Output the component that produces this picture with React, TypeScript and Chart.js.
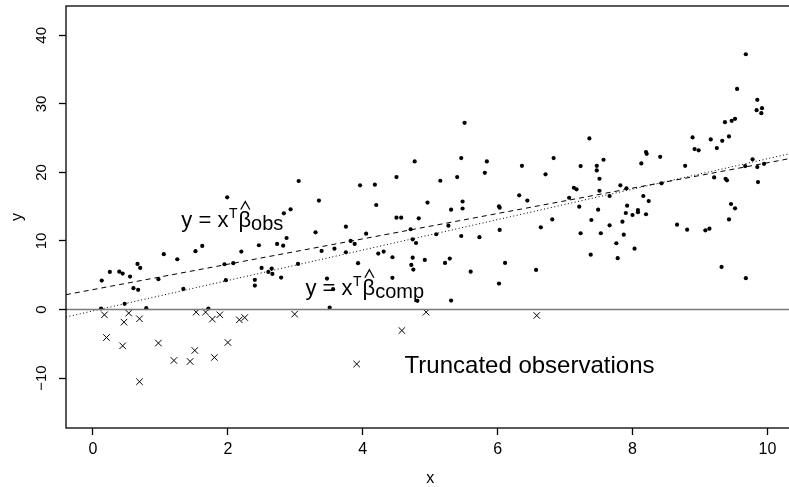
import React, { useEffect, useRef } from 'react';
import { Chart, registerables } from 'chart.js';

Chart.register(...registerables);

const FONT = '"Liberation Sans", Arial, Helvetica, sans-serif';

// Observed (non-truncated) points
const obsX = [
  3.05, 1.99, 2.93, 2.83, 5.51, 3.35, 3.96, 4.18, 4.20, 4.50,
  4.77, 4.50, 4.57, 4.83, 4.96, 5.15, 5.31, 5.40, 5.46, 5.48,
  5.48, 5.84, 5.81, 6.02, 6.03, 6.32, 6.44, 6.36, 6.71, 9.68,
  9.55, 9.85, 9.84, 9.92, 9.91, 9.37, 9.47, 9.52, 9.43, 9.33,
  9.16, 9.25, 8.89, 8.92, 8.98, 8.78, 7.36, 6.83, 7.23, 7.47,
  7.47, 7.57, 7.51, 7.13, 7.17, 7.06, 7.21, 7.51, 7.49, 7.66,
  7.82, 7.91, 8.13, 8.20, 8.21, 8.41, 8.43, 8.16, 8.24, 7.92,
  7.90, 8.00, 8.08, 8.08, 8.20, 6.81, 7.39, 9.21, 9.38, 9.40,
  9.67, 9.78, 9.85, 9.95, 9.86, 9.46, 9.52, 9.43, 2.87, 2.73,
  2.82, 2.46, 2.20, 1.62, 1.52, 1.05, 1.25, 0.66, 0.70, 0.25,
  0.39, 0.44, 0.55, 0.13, 1.95, 2.08, 2.50, 2.60, 2.65, 2.66,
  3.04, 2.79, 0.97, 1.97, 2.40, 2.40, 0.60, 0.67, 1.34, 0.47,
  0.12, 0.79, 1.71, 3.75, 3.30, 4.05, 3.82, 3.88, 3.39, 3.58,
  3.75, 4.71, 5.27, 5.09, 4.74, 4.79, 5.46, 5.73, 6.03, 6.64,
  4.23, 4.31, 4.44, 4.74, 4.92, 5.22, 5.29, 3.93, 4.72, 4.75,
  5.60, 6.11, 6.57, 4.44, 6.02, 3.47, 3.56, 4.81, 5.31, 3.51,
  7.23, 7.53, 7.66, 7.85, 7.76, 7.87, 7.38, 7.78, 8.03, 8.66,
  8.81, 9.08, 9.14, 9.32, 9.68,
];
const obsY = [
  18.75, 16.37, 14.62, 14.04, 27.24, 15.90, 18.12, 18.21, 15.25, 19.33,
  21.61, 13.40, 13.40, 13.31, 15.61, 18.79, 14.57, 19.33, 22.10, 15.76,
  14.74, 21.61, 19.95, 15.06, 14.86, 16.66, 15.90, 20.97, 19.72, 37.24,
  32.19, 30.59, 29.09, 29.38, 28.65, 27.34, 27.53, 27.82, 25.26, 24.61,
  24.82, 23.55, 25.11, 23.41, 23.22, 20.97, 24.96, 22.10, 20.93, 20.97,
  20.30, 21.85, 19.08, 17.77, 17.54, 16.31, 15.00, 17.33, 14.57, 16.56,
  18.12, 17.68, 21.32, 22.97, 22.72, 22.28, 18.41, 16.56, 15.83, 15.15,
  14.08, 13.79, 14.52, 14.19, 13.90, 13.14, 13.06, 19.28, 19.08, 18.85,
  20.93, 21.91, 20.78, 21.26, 18.60, 15.40, 14.77, 13.14, 10.44, 9.57,
  9.32, 9.38, 8.45, 9.28, 8.51, 8.07, 7.34, 6.66, 6.07, 5.49,
  5.53, 5.24, 4.81, 4.22, 6.61, 6.76, 6.07, 5.49, 5.97, 5.20,
  6.66, 4.66, 4.43, 4.28, 4.33, 3.50, 3.12, 2.87, 3.01, 0.83,
  0.15, 0.20, 0.15, 12.09, 11.27, 11.07, 10.01, 9.57, 8.55, 8.88,
  8.36, 11.71, 12.23, 10.98, 10.25, 9.71, 10.73, 10.55, 11.61, 12.00,
  8.16, 8.45, 7.63, 7.57, 7.24, 6.80, 7.43, 6.76, 6.51, 5.83,
  5.53, 6.80, 5.78, 4.62, 3.79, 4.52, 2.97, 1.27, 1.31, 0.29,
  11.13, 11.13, 12.29, 12.82, 9.67, 10.92, 8.01, 7.49, 8.88, 12.38,
  11.65, 11.56, 11.80, 6.22, 4.57,
];

// Truncated observations (latent values below zero)
const truncX = [
  0.17, 0.53, 0.46, 0.69, 1.53, 1.67, 1.77, 1.88, 2.17, 2.25,
  2.99, 0.20, 0.44, 0.97, 1.51, 2.00, 1.20, 1.44, 1.80, 0.69,
  4.94, 6.58, 4.58, 3.91,
];
const truncY = [
  -0.77, -0.52, -1.84, -1.35, -0.38, -0.38, -1.40, -0.77, -1.50, -1.17,
  -0.67, -4.08, -5.29, -4.89, -5.97, -4.81, -7.43, -7.57, -6.99, -10.53,
  -0.38, -0.87, -3.06, -7.95,
];

// Fitted lines: [intercept, slope]
const obsFit = [2.91, 1.85];
const compFit = [-0.2, 2.22];

const xTicks = [0, 2, 4, 6, 8, 10];
const yTicks = [-10, 0, 10, 20, 30, 40];
const xRange = [-0.4, 10.4];
const yRange = [-17.28, 44.28];

// Annotation anchors (data units: left edge, baseline)
const labelObs = [1.31, 12.11];
const labelComp = [3.15, 2.16];
const labelTrunc = [4.62, -9.3];

function drawBetaLabel(ctx: CanvasRenderingContext2D, x0: number, base: number, sub: string) {
  ctx.textAlign = 'left';
  ctx.textBaseline = 'alphabetic';
  ctx.font = `22px ${FONT}`;
  ctx.fillText('y = x', x0, base);
  let cx = x0 + ctx.measureText('y = x').width;
  ctx.font = `14px ${FONT}`;
  ctx.fillText('T', cx + 0.5, base - 9);
  cx += ctx.measureText('T').width + 1.5;
  ctx.font = `22px ${FONT}`;
  const bw = ctx.measureText('\u03B2').width;
  ctx.fillText('\u03B2', cx, base);
  const hc = cx + bw / 2 + 0.5;
  ctx.beginPath();
  ctx.moveTo(hc - 4.5, base - 17);
  ctx.lineTo(hc, base - 25);
  ctx.lineTo(hc + 4.5, base - 17);
  ctx.lineWidth = 1.3;
  ctx.stroke();
  cx += bw;
  ctx.font = `20px ${FONT}`;
  ctx.fillText(sub, cx, base + 3.5);
}

export default function App() {
  const ref = useRef<HTMLCanvasElement>(null);

  useEffect(() => {
    const canvas = ref.current;
    if (!canvas) return;
    const pts = (xs: number[], ys: number[]) => xs.map((x, i) => ({ x, y: ys[i] }));
    const fitLine = (c: number[]) => xRange.map((x) => ({ x, y: c[0] + c[1] * x }));

    const boxPlugin = {
      id: 'box',
      afterDraw(chart: any) {
        const { ctx, chartArea: a } = chart;
        ctx.save();
        ctx.strokeStyle = '#000';
        ctx.lineWidth = 1.3;
        ctx.strokeRect(a.left, a.top, a.right - a.left, a.bottom - a.top);
        ctx.restore();
      },
    };

    const annotPlugin = {
      id: 'annot',
      afterDatasetsDraw(chart: any) {
        const { ctx } = chart;
        const sx = chart.scales.x;
        const sy = chart.scales.y;
        ctx.save();
        ctx.fillStyle = '#000';
        ctx.strokeStyle = '#000';
        drawBetaLabel(ctx, sx.getPixelForValue(labelObs[0]), sy.getPixelForValue(labelObs[1]), 'obs');
        drawBetaLabel(ctx, sx.getPixelForValue(labelComp[0]), sy.getPixelForValue(labelComp[1]), 'comp');
        ctx.font = `24px ${FONT}`;
        ctx.textAlign = 'left';
        ctx.textBaseline = 'alphabetic';
        ctx.fillText('Truncated observations', sx.getPixelForValue(labelTrunc[0]), sy.getPixelForValue(labelTrunc[1]));
        ctx.restore();
      },
    };

    const minus = (v: any) => String(v).replace('-', '\u2212');
    const noPad = (s: any) => { s.paddingTop = 0; s.paddingBottom = 0; s.paddingLeft = 0; s.paddingRight = 0; };

    const chart = new Chart(canvas, {
      type: 'scatter',
      data: {
        datasets: [
          { data: xRange.map((x) => ({ x, y: 0 })), showLine: true, borderColor: '#7a7a7a', borderWidth: 1.4, pointRadius: 0 },
          { data: fitLine(obsFit), showLine: true, borderColor: '#000', borderWidth: 1, borderDash: [5, 4], pointRadius: 0 },
          { data: fitLine(compFit), showLine: true, borderColor: '#000', borderWidth: 1, borderDash: [1, 2.5], pointRadius: 0 },
          { data: pts(obsX, obsY), pointStyle: 'circle', pointRadius: 2.1, backgroundColor: '#000', borderWidth: 0 },
          { data: pts(truncX, truncY), pointStyle: 'crossRot', pointRadius: 4.6, borderColor: '#000', borderWidth: 1, backgroundColor: '#000' },
        ] as any,
      },
      options: {
        animation: false,
        responsive: false,
        maintainAspectRatio: false,
        devicePixelRatio: 1,
        events: [],
        layout: { padding: { top: 6, right: 2, bottom: 0, left: 0 } },
        plugins: { legend: { display: false }, tooltip: { enabled: false } },
        scales: {
          x: {
            type: 'linear',
            min: xRange[0],
            max: xRange[1],
            afterBuildTicks: (s: any) => { s.ticks = xTicks.map((value) => ({ value })); },
            afterFit: (s: any) => { s.height = 59; noPad(s); },
            grid: { display: true, drawOnChartArea: false, drawTicks: true, tickLength: 7, tickColor: '#000', tickWidth: 1.3 },
            border: { display: false },
            ticks: { color: '#000', font: { family: FONT, size: 16 }, padding: 5, maxRotation: 0, autoSkip: false, callback: minus },
            title: { display: true, text: 'x', color: '#000', font: { family: FONT, size: 16, lineHeight: 1 }, padding: { top: 0, bottom: 0 } },
          },
          y: {
            type: 'linear',
            min: yRange[0],
            max: yRange[1],
            afterBuildTicks: (s: any) => { s.ticks = yTicks.map((value) => ({ value })); },
            afterFit: (s: any) => { s.width = 66; noPad(s); },
            grid: { display: true, drawOnChartArea: false, drawTicks: true, tickLength: 7, tickColor: '#000', tickWidth: 1.3 },
            border: { display: false },
            ticks: { color: '#000', font: { family: FONT, size: 15 }, padding: 4, minRotation: 90, maxRotation: 90, crossAlign: 'center', autoSkip: false, callback: minus },
            title: { display: true, text: 'y', color: '#000', font: { family: FONT, size: 16, lineHeight: 1 }, padding: { top: 10, bottom: 0 } },
          },
        },
      } as any,
      plugins: [boxPlugin, annotPlugin],
    });
    return () => chart.destroy();
  }, []);

  return (
    <div style={{ position: 'fixed', left: 0, top: 0, width: 789, height: 487, overflow: 'hidden', background: '#fff' }}>
      <canvas ref={ref} width={800} height={487} style={{ display: 'block' }} />
    </div>
  );
}
